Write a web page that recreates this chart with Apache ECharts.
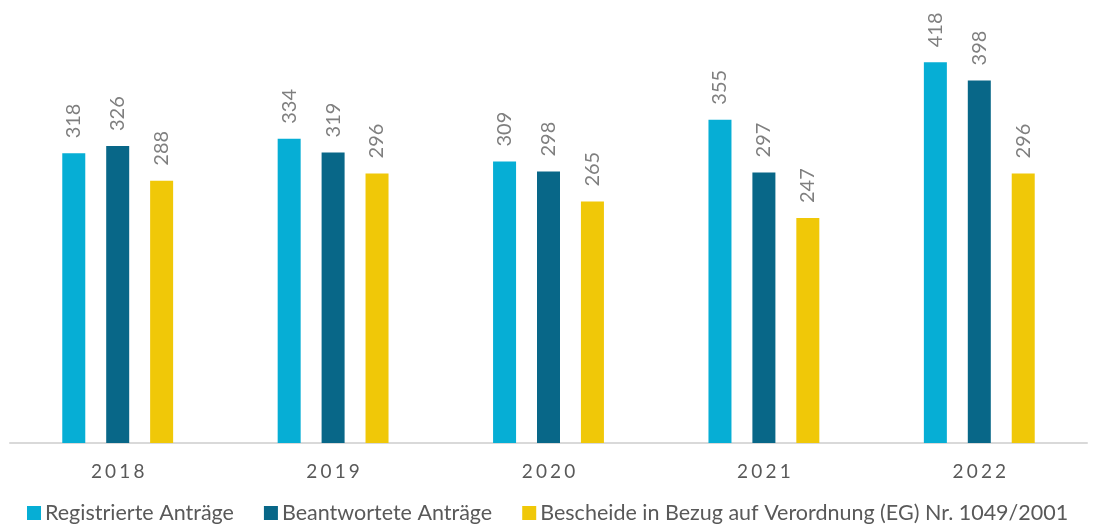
<!DOCTYPE html>
<html>
<head>
<meta charset="utf-8">
<script src="https://cdn.jsdelivr.net/npm/echarts@6/dist/echarts.min.js"></script>
<style>
  html, body { margin: 0; padding: 0; background: #fff; }
  #chart { width: 1097px; height: 527px; }
</style>
</head>
<body>
<div id="chart"></div>
<script>
// Jahre und Werte
var years = ['2018', '2019', '2020', '2021', '2022'];
var registriert = [318, 334, 309, 355, 418];
var beantwortet = [326, 319, 298, 297, 398];
var bescheide = [288, 296, 265, 247, 296];
var seriesNames = ['Registrierte Anträge', 'Beantwortete Anträge', 'Bescheide in Bezug auf Verordnung (EG) Nr. 1049/2001'];
var colors = ['#06aed5', '#086788', '#f0c808'];

var chart = echarts.init(document.getElementById('chart'));

var label = {
    show: true,
    position: 'top',
    rotate: 90,
    align: 'left',
    verticalAlign: 'middle',
    distance: 15,
    color: '#7f7f7f',
    fontFamily: 'Lato',
    fontSize: 20
};

function makeSeries(i, values){
    return {
        name: seriesNames[i],
        type: 'bar',
        data: values,
        barWidth: 23,
        barGap: '91%',
        itemStyle: {color: colors[i]},
        label: label
    };
}

var option = {
    animation: false,
    textStyle: {fontFamily: 'Lato'},
    grid: {left: 10, right: 10, top: 24, bottom: 84},
    legend: {
        left: 22,
        top: 497,
        itemWidth: 14,
        itemHeight: 14,
        itemGap: 30,
        icon: 'rect',
        textStyle: {color: '#595959', fontSize: 21.5, fontFamily: 'Lato', padding: [0, 0, 0, -1]},
        data: seriesNames
    },
    xAxis: {
        type: 'category',
        data: years,
        axisTick: {show: false},
        axisLine: {lineStyle: {color: '#d9d9d9', width: 2}},
        axisLabel: {
            color: '#595959',
            fontSize: 19,
            margin: 19,
            // gesperrte Schrift wie im Original
            formatter: function(v){ return v.split('').join('\u2006'); }
        }
    },
    yAxis: {
        type: 'value',
        min: 0,
        max: 460,
        show: false,
        splitLine: {show: false}
    },
    series: [
        makeSeries(0, registriert),
        makeSeries(1, beantwortet),
        makeSeries(2, bescheide)
    ]
};

chart.setOption(option);
</script>
</body>
</html>
